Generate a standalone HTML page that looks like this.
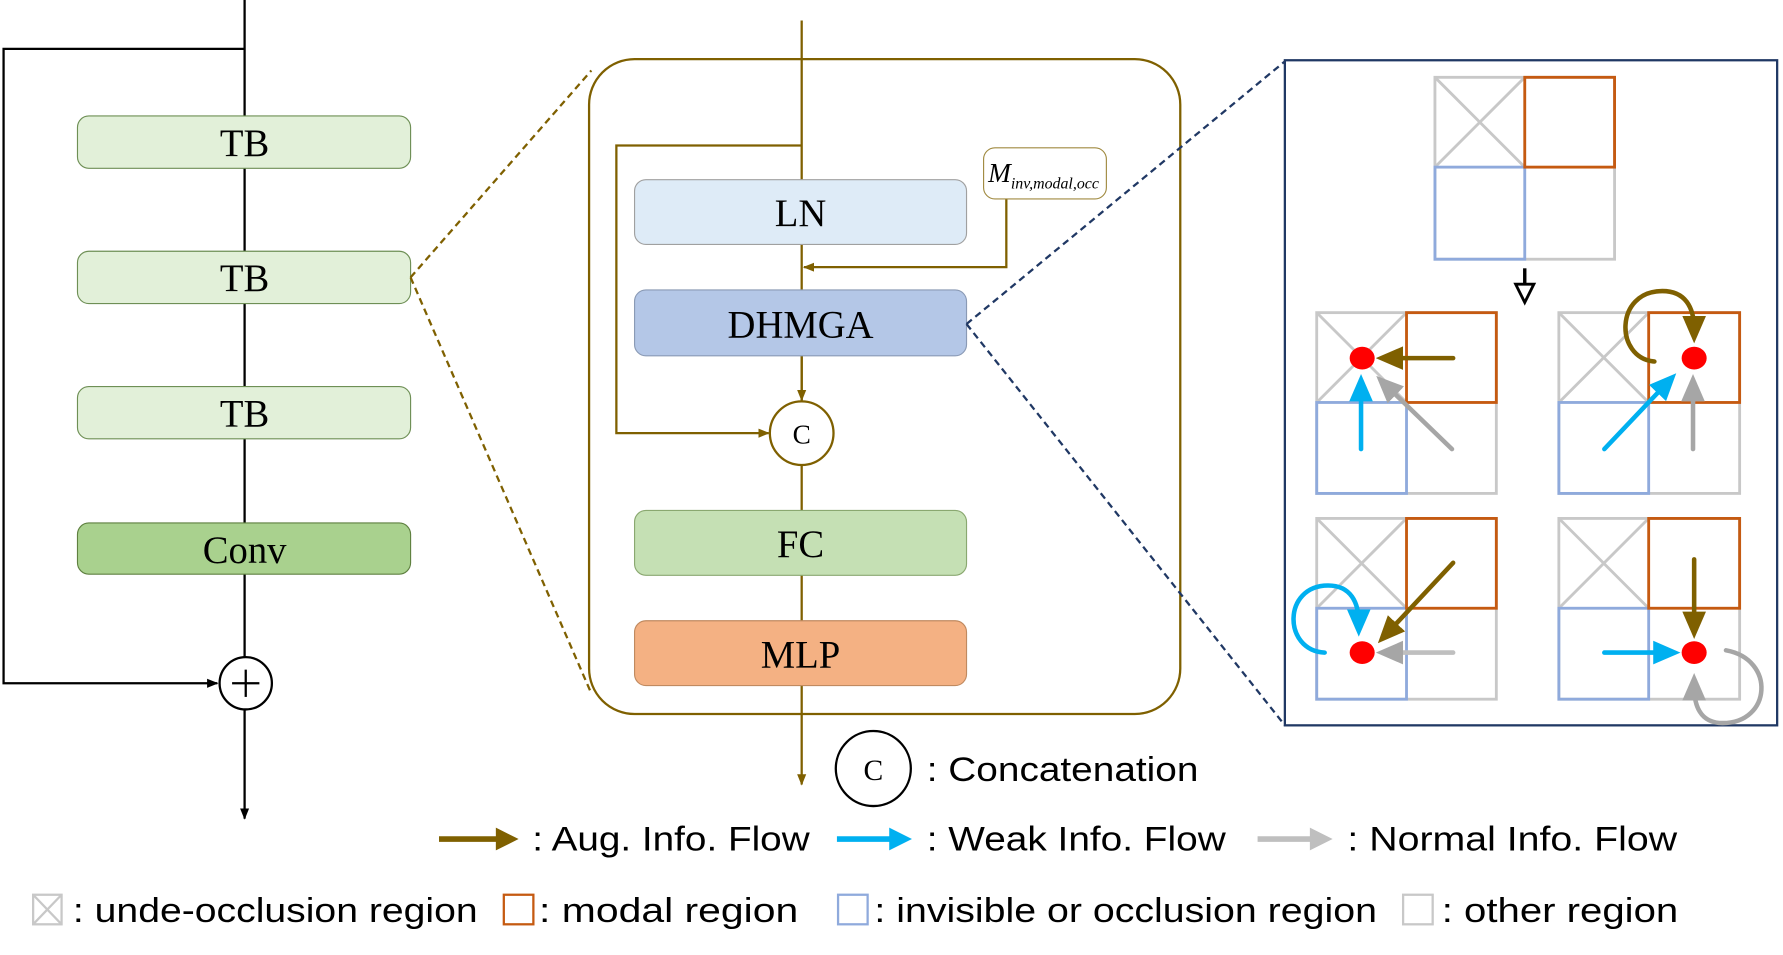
<!DOCTYPE html>
<html><head><style>html,body{margin:0;padding:0;background:#fff}svg{display:block}</style></head><body>
<svg width="1783" height="955" viewBox="0 0 1568 840" xmlns="http://www.w3.org/2000/svg">
<defs>
<marker id="ak" markerWidth="10" markerHeight="10" refX="9" refY="5" orient="auto" markerUnits="userSpaceOnUse"><path d="M0,1 L10,5 L0,9z" fill="#000"/></marker>
<marker id="ab" markerWidth="10" markerHeight="10" refX="9" refY="5" orient="auto" markerUnits="userSpaceOnUse"><path d="M0,1 L10,5 L0,9z" fill="#7f6000"/></marker>
<marker id="mB" markerWidth="6" markerHeight="6" refX="3" refY="3" orient="auto"><path d="M0,0.4 L6,3 L0,5.6z" fill="#7f6000"/></marker>
<marker id="mC" markerWidth="6" markerHeight="6" refX="3" refY="3" orient="auto"><path d="M0,0.4 L6,3 L0,5.6z" fill="#00b0f0"/></marker>
<marker id="mG" markerWidth="6" markerHeight="6" refX="3" refY="3" orient="auto"><path d="M0,0.4 L6,3 L0,5.6z" fill="#a6a6a6"/></marker>
</defs>
<g font-family="Liberation Serif, serif" font-size="34" text-anchor="middle">
<line x1="215" y1="0" x2="215" y2="720" stroke="#000" stroke-width="2" marker-end="url(#ak)"/>
<polyline points="215,43 3,43 3,601 191,601" fill="none" stroke="#000" stroke-width="2" marker-end="url(#ak)"/>
<circle cx="216" cy="601" r="23" fill="#fff" stroke="#000" stroke-width="2"/>
<line x1="204" y1="601" x2="228" y2="601" stroke="#000" stroke-width="2"/><line x1="216" y1="589" x2="216" y2="613" stroke="#000" stroke-width="2"/>
<rect x="68" y="102" width="293" height="46" rx="10" fill="#e2f0d9" stroke="#6e8f55"/><text x="215" y="137">TB</text>
<rect x="68" y="221" width="293" height="46" rx="10" fill="#e2f0d9" stroke="#6e8f55"/><text x="215" y="256">TB</text>
<rect x="68" y="340" width="293" height="46" rx="10" fill="#e2f0d9" stroke="#6e8f55"/><text x="215" y="375">TB</text>
<rect x="68" y="460" width="293" height="45" rx="10" fill="#a9d18e" stroke="#5f8040"/><text x="215" y="495">Conv</text>
<line x1="361" y1="244" x2="520" y2="62" stroke="#7f6000" stroke-width="2" stroke-dasharray="6,4"/>
<line x1="361" y1="244" x2="520" y2="610" stroke="#7f6000" stroke-width="2" stroke-dasharray="6,4"/>
<rect x="518" y="52" width="520" height="576" rx="40" fill="#fff" stroke="#7f6000" stroke-width="2"/>
<line x1="705" y1="18" x2="705" y2="690" stroke="#7f6000" stroke-width="2" marker-end="url(#ab)"/>
<polyline points="705,128 542,128 542,381 676,381" fill="none" stroke="#7f6000" stroke-width="2" marker-end="url(#ab)"/>
<polyline points="885,175 885,235 707,235" fill="none" stroke="#7f6000" stroke-width="2" marker-end="url(#ab)"/>
<line x1="705" y1="313" x2="705" y2="352" stroke="#7f6000" stroke-width="2" marker-end="url(#ab)"/>
<rect x="558" y="158" width="292" height="57" rx="10" fill="#deebf7" stroke="#a0a0a0"/><text x="704" y="199">LN</text>
<rect x="558" y="255" width="292" height="58" rx="10" fill="#b4c7e7" stroke="#8a9ab5"/><text x="704" y="297">DHMGA</text>
<circle cx="705" cy="381" r="28" fill="#fff" stroke="#7f6000" stroke-width="2"/><text x="705" y="390" font-size="24">C</text>
<rect x="558" y="449" width="292" height="57" rx="10" fill="#c5e0b4" stroke="#8aa870"/><text x="704" y="490">FC</text>
<rect x="558" y="546" width="292" height="57" rx="10" fill="#f4b183" stroke="#c08a60"/><text x="704" y="587">MLP</text>
<rect x="865" y="130" width="108" height="45" rx="10" fill="#fff" stroke="#a08a40"/>
<text x="869" y="160" font-size="24" font-style="italic" text-anchor="start">M<tspan font-size="14" dy="6">inv,modal,occ</tspan></text>
<line x1="850" y1="285" x2="1130" y2="54" stroke="#203864" stroke-width="2" stroke-dasharray="6,4"/>
<line x1="850" y1="285" x2="1130" y2="638" stroke="#203864" stroke-width="2" stroke-dasharray="6,4"/>
<rect x="1130" y="53" width="433" height="585" fill="#fff" stroke="#203864" stroke-width="2"/>
</g>
<g fill="none" stroke-width="2.5">
<g transform="translate(1262,68)">
<rect x="0" y="0" width="158" height="160" stroke="#c8c8c8"/><line x1="0" y1="0" x2="79" y2="79" stroke="#c8c8c8"/><line x1="79" y1="0" x2="0" y2="79" stroke="#c8c8c8"/>
<rect x="0" y="79" width="79" height="81" stroke="#8faadc"/><rect x="79" y="0" width="79" height="79" stroke="#c55a11"/></g>
<g transform="translate(1158,275)">
<rect x="0" y="0" width="158" height="159" stroke="#c8c8c8"/><line x1="0" y1="0" x2="79" y2="79" stroke="#c8c8c8"/><line x1="79" y1="0" x2="0" y2="79" stroke="#c8c8c8"/>
<rect x="0" y="79" width="79" height="80" stroke="#8faadc"/><rect x="79" y="0" width="79" height="79" stroke="#c55a11"/></g>
<g transform="translate(1371,275)">
<rect x="0" y="0" width="159" height="159" stroke="#c8c8c8"/><line x1="0" y1="0" x2="79" y2="79" stroke="#c8c8c8"/><line x1="79" y1="0" x2="0" y2="79" stroke="#c8c8c8"/>
<rect x="0" y="79" width="79" height="80" stroke="#8faadc"/><rect x="79" y="0" width="80" height="79" stroke="#c55a11"/></g>
<g transform="translate(1158,456)">
<rect x="0" y="0" width="158" height="159" stroke="#c8c8c8"/><line x1="0" y1="0" x2="79" y2="79" stroke="#c8c8c8"/><line x1="79" y1="0" x2="0" y2="79" stroke="#c8c8c8"/>
<rect x="0" y="79" width="79" height="80" stroke="#8faadc"/><rect x="79" y="0" width="79" height="79" stroke="#c55a11"/></g>
<g transform="translate(1371,456)">
<rect x="0" y="0" width="159" height="159" stroke="#c8c8c8"/><line x1="0" y1="0" x2="79" y2="79" stroke="#c8c8c8"/><line x1="79" y1="0" x2="0" y2="79" stroke="#c8c8c8"/>
<rect x="0" y="79" width="79" height="80" stroke="#8faadc"/><rect x="79" y="0" width="80" height="79" stroke="#c55a11"/></g>
<line x1="1341" y1="236" x2="1341" y2="250" stroke="#000" stroke-width="3"/>
<path d="M1333,250 L1349,250 L1341,266z" stroke="#000" stroke-width="2.5" fill="#fff"/>
</g>
<g fill="none" stroke-width="4" stroke-linecap="round">
<line x1="1278" y1="315" x2="1222" y2="315" stroke="#7f6000" marker-end="url(#mB)"/>
<line x1="1197" y1="395" x2="1197" y2="341" stroke="#00b0f0" marker-end="url(#mC)"/>
<line x1="1277" y1="395" x2="1219" y2="339" stroke="#a6a6a6" marker-end="url(#mG)"/>
<path d="M1455,318 C1420,315 1420,256 1462,256 C1482,256 1490,270 1490,290" stroke="#7f6000" marker-end="url(#mB)"/>
<line x1="1411" y1="395" x2="1466" y2="337" stroke="#00b0f0" marker-end="url(#mC)"/>
<line x1="1489" y1="395" x2="1489" y2="341" stroke="#a6a6a6" marker-end="url(#mG)"/>
<path d="M1165,574 C1128,572 1128,515 1168,515 C1188,515 1195,530 1195,548" stroke="#00b0f0" marker-end="url(#mC)"/>
<line x1="1278" y1="495" x2="1220" y2="557" stroke="#7f6000" marker-end="url(#mB)"/>
<line x1="1278" y1="574" x2="1222" y2="574" stroke="#bfbfbf" marker-end="url(#mG)"/>
<line x1="1490" y1="492" x2="1490" y2="550" stroke="#7f6000" marker-end="url(#mB)"/>
<line x1="1411" y1="574" x2="1466" y2="574" stroke="#00b0f0" marker-end="url(#mC)"/>
<path d="M1518,572 C1562,580 1558,636 1515,636 C1495,636 1490,620 1490,604" stroke="#a6a6a6" marker-end="url(#mG)"/>
</g>
<g fill="#ff0000">
<ellipse cx="1198" cy="315" rx="11" ry="10"/><ellipse cx="1490" cy="315" rx="11" ry="10"/>
<ellipse cx="1198" cy="574" rx="11" ry="10"/><ellipse cx="1490" cy="574" rx="11" ry="10"/>
</g>
<g font-family="Liberation Sans, sans-serif" font-size="30" fill="#000">
<circle cx="768" cy="676" r="33" fill="#fff" stroke="#000" stroke-width="2"/>
<text x="768" y="686" font-family="Liberation Serif, serif" font-size="26" text-anchor="middle">C</text>
<text x="815" y="687" textLength="239" lengthAdjust="spacingAndGlyphs">: Concatenation</text>
<g stroke-width="5" fill="none">
<line x1="386" y1="738" x2="440" y2="738" stroke="#7f6000"/><line x1="736" y1="738" x2="786" y2="738" stroke="#00b0f0"/><line x1="1106" y1="738" x2="1156" y2="738" stroke="#bfbfbf"/></g>
<path d="M436,728 L456,738 L436,748z" fill="#7f6000"/>
<path d="M782,728 L802,738 L782,748z" fill="#00b0f0"/>
<path d="M1152,728 L1172,738 L1152,748z" fill="#bfbfbf"/>
<text x="468" y="748" textLength="244" lengthAdjust="spacingAndGlyphs">: Aug. Info. Flow</text>
<text x="815" y="748" textLength="263" lengthAdjust="spacingAndGlyphs">: Weak Info. Flow</text>
<text x="1185" y="748" textLength="290" lengthAdjust="spacingAndGlyphs">: Normal Info. Flow</text>
<g fill="none" stroke-width="2">
<rect x="29" y="787" width="25" height="26" stroke="#c8c8c8"/><line x1="29" y1="787" x2="54" y2="813" stroke="#c8c8c8"/><line x1="54" y1="787" x2="29" y2="813" stroke="#c8c8c8"/>
<rect x="443" y="787" width="26" height="26" stroke="#c55a11"/>
<rect x="737" y="787" width="26" height="26" stroke="#8faadc"/>
<rect x="1234" y="787" width="26" height="26" stroke="#c8c8c8"/></g>
<text x="64" y="811" textLength="356" lengthAdjust="spacingAndGlyphs">: unde-occlusion region</text>
<text x="474" y="811" textLength="228" lengthAdjust="spacingAndGlyphs">: modal region</text>
<text x="769" y="811" textLength="442" lengthAdjust="spacingAndGlyphs">: invisible or occlusion region</text>
<text x="1268" y="811" textLength="208" lengthAdjust="spacingAndGlyphs">: other region</text>
</g>
</svg>
</body></html>
